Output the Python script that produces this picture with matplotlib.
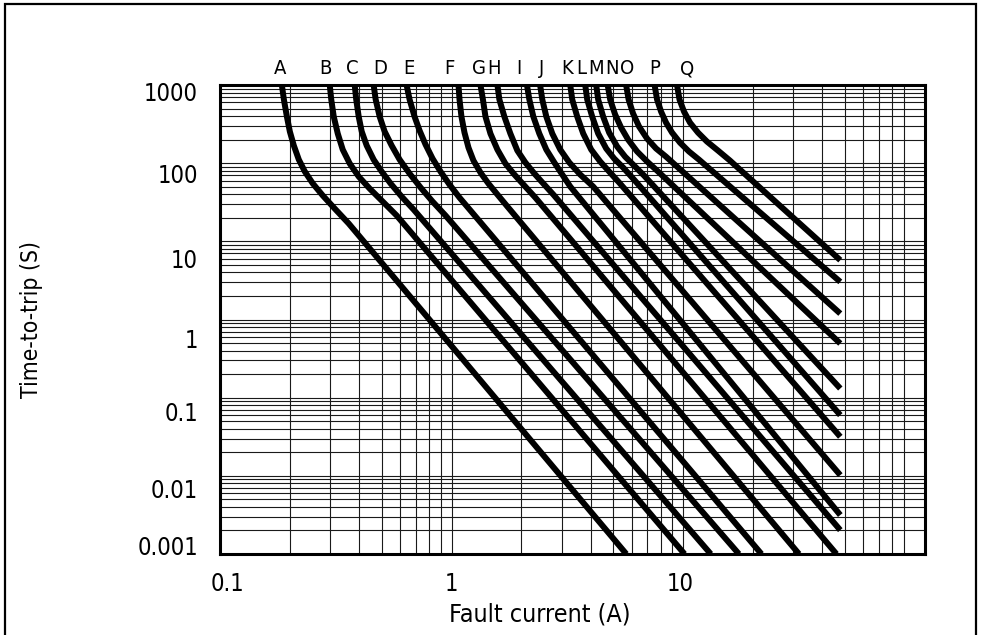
import os
import matplotlib
matplotlib.use('Agg')
import matplotlib.pyplot as plt
import matplotlib.transforms as mtransforms
from matplotlib import font_manager
from matplotlib.patches import Rectangle
from matplotlib.ticker import LogLocator, NullFormatter, FixedLocator

# curve letters and where their letter sits (A) above the plot
letters = list('ABCDEFGHIJKLMNOPQ')
letter_x = [0.1815, 0.286, 0.374, 0.494, 0.653, 0.980, 1.31, 1.53, 1.96,
            2.44, 3.16, 3.63, 4.22, 4.93, 5.72, 7.57, 10.4]

# fault current (A) / time-to-trip (s)
I_A = [0.1850, 0.1888, 0.1945, 0.2003, 0.2084, 0.2190, 0.2325, 0.2518, 0.2780, 0.3131, 0.3597, 5.69]
t_A = [1000, 651, 394, 254, 168, 111, 78.1, 54.8, 38.5, 26.2, 16.9, 0.001]
I_B = [0.2979, 0.3024, 0.3100, 0.3226, 0.3390, 0.3634, 0.3973, 0.4431, 0.5043, 0.5795, 10.15]
t_B = [1000, 651, 394, 239, 149, 98.9, 67.4, 47.3, 32.3, 21.4, 0.001]
I_C = [0.3818, 0.3876, 0.3973, 0.4094, 0.4302, 0.4610, 0.4993, 0.5460, 0.6087, 0.6860, 13.18]
t_C = [1000, 651, 394, 254, 168, 111, 78.1, 54.8, 37.4, 25.5, 0.001]
I_D = [0.4610, 0.4704, 0.4894, 0.5143, 0.5514, 0.5970, 0.6592, 0.7353, 0.8282, 0.9422, 17.44]
t_D = [1000, 651, 394, 254, 168, 111, 73.6, 48.8, 32.3, 21.4, 0.001]
I_E = [0.6398, 0.6592, 0.6926, 0.7280, 0.7725, 0.8282, 0.8965, 0.9803, 1.0826, 1.2076, 21.82]
t_E = [1000, 651, 394, 261, 173, 114.5, 78.1, 53.2, 36.3, 24.8, 0.001]
I_F = [1.072, 1.083, 1.104, 1.138, 1.184, 1.244, 1.334, 1.444, 1.579, 1.743, 31.70]
t_F = [1000, 651, 394, 246, 158, 108, 75.8, 54.8, 39.7, 27.9, 0.001]
I_G = [1.334, 1.367, 1.402, 1.473, 1.579, 1.709, 1.869, 2.064, 2.302, 46.0]
t_G = [1000, 651, 394, 239, 149, 98.9, 71.5, 51.7, 36.3, 0.001]
I_H = [1.579, 1.610, 1.692, 1.796, 1.925, 2.084, 2.280, 2.493, 2.753, 47.8]
t_H = [1000, 651, 394, 239, 145, 102, 73.6, 54.8, 39.7, 0.00202]
I_I = [2.118, 2.169, 2.257, 2.395, 2.568, 2.780, 3.009, 3.258, 47.8]
t_I = [1000, 651, 394, 239, 149, 102, 71.5, 50.2, 0.00315]
I_J = [2.414, 2.467, 2.568, 2.725, 2.950, 3.226, 3.597, 4.093, 47.8]
t_J = [1000, 651, 394, 239, 149, 102, 71.5, 50.2, 0.0102]
I_K = [3.258, 3.323, 3.492, 3.707, 4.013, 4.387, 4.797, 5.299, 47.8]
t_K = [1000, 651, 394, 239, 149, 105, 78.1, 56.5, 0.0316]
I_L = [3.781, 3.857, 4.053, 4.301, 4.658, 5.042, 5.513, 6.087, 47.8]
t_L = [1000, 651, 394, 239, 154, 114.5, 87.9, 63.5, 0.0598]
I_M = [4.217, 4.301, 4.520, 4.797, 5.195, 5.623, 6.148, 6.788, 47.8]
t_M = [1000, 651, 394, 246, 163, 121, 93.2, 69.4, 0.131]
I_N = [4.727, 4.846, 5.093, 5.403, 5.793, 6.335, 6.996, 7.804, 47.8]
t_N = [1000, 651, 418, 285, 200, 141, 105, 78.1, 0.493]
I_O = [5.679, 5.822, 6.087, 6.460, 6.996, 7.650, 8.448, 9.421, 47.8]
t_O = [1000, 651, 431, 294, 206, 154, 121, 90.5, 1.19]
I_P = [7.537, 7.726, 8.039, 8.448, 8.966, 9.707, 10.61, 11.72, 47.8]
t_P = [1000, 651, 457, 330, 246, 183, 141, 111, 3.03]
I_Q = [9.421, 9.658, 10.10, 10.72, 11.61, 12.69, 14.16, 15.95, 47.8]
t_Q = [1000, 651, 457, 330, 246, 189, 145, 108, 5.74]

curves = [(I_A, t_A), (I_B, t_B), (I_C, t_C), (I_D, t_D), (I_E, t_E),
          (I_F, t_F), (I_G, t_G), (I_H, t_H), (I_I, t_I), (I_J, t_J),
          (I_K, t_K), (I_L, t_L), (I_M, t_M), (I_N, t_N), (I_O, t_O),
          (I_P, t_P), (I_Q, t_Q)]

x_ticks = [0.1, 1, 10]
x_tick_text = ['0.1', '1', '10']
x_tick_shift = [8, 0, -3]          # px, the drawing nudges these a little
y_ticks = [0.001, 0.01, 0.1, 1, 10, 100, 1000]
y_tick_text = ['0.001', '0.01', '0.1', '1', '10', '100', '1000']
y_tick_drop = [-6, 15, 16, 22, 20, 13, 9]   # px below the grid line


# narrow font if the box has one, the CAD lettering is condensed
def pick_font():
    for wanted in ['DejaVuSansCondensed.ttf', 'LiberationSansNarrow-Regular.ttf']:
        for f in font_manager.fontManager.ttflist:
            if os.path.basename(f.fname) == wanted:
                return f.name, f.stretch
    return 'DejaVu Sans', 'normal'


fam, stretch = pick_font()
plt.rcParams['font.family'] = [fam, 'DejaVu Sans']
plt.rcParams['font.stretch'] = stretch

fig = plt.figure(figsize=(9.81, 6.35), dpi=100)
ax = fig.add_axes([220 / 981, 1 - 554 / 635, 705 / 981, 469 / 635])

for I, t in curves:
    ax.plot(I, t, color='black', lw=4.3, solid_joinstyle='round',
            solid_capstyle='butt', zorder=3)

ax.set_xscale('log')
ax.set_yscale('log')
ax.set_xlim(0.1, 111)
ax.set_ylim(0.001, 1000)

ax.xaxis.set_minor_locator(LogLocator(base=10, subs=range(2, 10), numticks=30))
ax.yaxis.set_minor_locator(LogLocator(base=10, subs=range(2, 10), numticks=30))
ax.xaxis.set_minor_formatter(NullFormatter())
ax.yaxis.set_minor_formatter(NullFormatter())
ax.xaxis.set_major_locator(FixedLocator(x_ticks))
ax.yaxis.set_major_locator(FixedLocator(y_ticks))
ax.grid(True, which='both', color='#1a1a1a', lw=0.8)
ax.tick_params(which='both', length=0, labelleft=False, labelbottom=False)

for s in ax.spines.values():
    s.set_linewidth(2.2)

px = fig.dpi_scale_trans
for v, txt, drop in zip(y_ticks, y_tick_text, y_tick_drop):
    off = mtransforms.ScaledTranslation(0, -drop / 100, px)
    ax.text(-0.031, v, txt, transform=ax.get_yaxis_transform() + off,
            ha='right', va='center', fontsize=17)

for v, txt, dx in zip(x_ticks, x_tick_text, x_tick_shift):
    off = mtransforms.ScaledTranslation(dx / 100, 0, px)
    ax.text(v, -0.064, txt, transform=ax.get_xaxis_transform() + off,
            ha='center', va='center', fontsize=17)

for x, s in zip(letter_x, letters):
    ax.annotate(s, (x, 1), xycoords=('data', 'axes fraction'),
                xytext=(0, 5), textcoords='offset points',
                ha='center', va='bottom', fontsize=14.5)

ax.set_xlabel('Fault current (A)', fontsize=18)
ax.xaxis.set_label_coords(0.454, -0.128)
ax.xaxis.label.set_verticalalignment('center')
ax.set_ylabel('Time-to-trip (S)', fontsize=16.5)
ax.yaxis.set_label_coords(-0.267, 0.5)
ax.yaxis.label.set_verticalalignment('center')

# drawing frame round the sheet
fig.add_artist(Rectangle((5 / 981, -0.1), 971 / 981, 1.1 - 4 / 635,
                         transform=fig.transFigure, fill=False,
                         lw=1.6, color='black'))

fig.savefig('out.png', dpi=100)
